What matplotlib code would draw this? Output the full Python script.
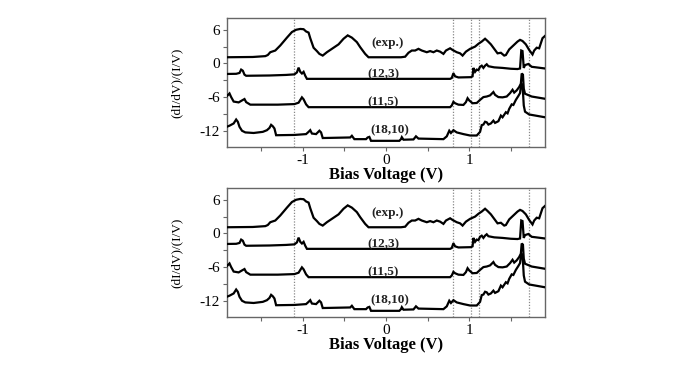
import matplotlib
matplotlib.use("Agg")
import matplotlib.pyplot as plt
from matplotlib.ticker import FixedLocator

plt.rcParams['font.family'] = ['Liberation Serif', 'DejaVu Serif']
plt.rcParams['axes.unicode_minus'] = False

# ---- data ----
exp_v = [-1.92, -1.60, -1.45, -1.42, -1.39, -1.33, -1.27, -1.19, -1.13, -1.08, -1.03, -0.99,
         -0.96, -0.93, -0.91, -0.87, -0.83, -0.80, -0.76, -0.71, -0.65, -0.57, -0.51, -0.46,
         -0.41, -0.35, -0.31, -0.25, -0.21, 0.18, 0.23, 0.27, 0.31, 0.35, 0.39, 0.43, 0.49,
         0.53, 0.57, 0.61, 0.65, 0.69, 0.72, 0.77, 0.80, 0.85, 0.89, 0.92, 0.96, 1.01, 1.07,
         1.11, 1.15, 1.19, 1.22, 1.26, 1.30, 1.34, 1.38, 1.42, 1.44, 1.48, 1.53, 1.58, 1.61,
         1.64, 1.68, 1.72, 1.76, 1.78, 1.81, 1.84, 1.88, 1.91]
exp_y = [1.1, 1.15, 1.3, 1.5, 2.0, 2.3, 3.2, 4.6, 5.6, 6.0, 6.15, 6.1,
         5.7, 5.5, 4.5, 2.8, 2.2, 1.7, 1.4, 2.0, 2.6, 3.4, 4.4, 5.0,
         4.6, 3.8, 2.9, 1.7, 1.1, 1.1, 1.2, 1.9, 2.3, 2.3, 2.6, 2.3, 2.0,
         2.2, 2.0, 2.3, 2.1, 1.7, 2.3, 2.7, 2.4, 2.0, 1.8, 1.4, 2.1, 2.6, 3.0,
         3.5, 3.9, 4.4, 4.0, 3.4, 2.6, 1.8, 1.9, 1.4, 1.5, 2.5, 3.2, 3.9, 4.2,
         4.0, 3.4, 2.4, 1.6, 2.3, 2.8, 2.7, 4.5, 4.9]

t123_v = [-1.93, -1.80, -1.76, -1.74, -1.72, -1.70, -1.68, -1.40, -1.20, -1.10, -1.07, -1.05,
          -1.03, -1.01, -0.99, -0.97, -0.95, 0.77, 0.79, 0.81, 0.83, 0.87, 1.02, 1.04, 1.05,
          1.07, 1.09, 1.11, 1.13, 1.15, 1.17, 1.19, 1.21, 1.23, 1.30, 1.40, 1.50, 1.58, 1.61,
          1.625, 1.64, 1.655, 1.67, 1.71, 1.75, 1.91]
t123_y = [-1.88, -1.85, -1.7, -1.1, -1.3, -2.0, -2.2, -2.15, -2.05, -1.95, -1.6, -0.75,
          -1.5, -1.8, -1.5, -2.2, -2.75, -2.75, -2.6, -1.75, -2.3, -2.5, -2.45, -2.3, -0.8,
          -1.5, -1.1, -1.2, -0.6, -0.4, -0.8, -0.4, -0.15, -0.5, -0.7, -0.8, -0.95, -1.0, -0.9,
          2.3, 2.2, -0.8, -0.3, -0.1, -0.6, -0.9]

t115_v = [-1.93, -1.91, -1.88, -1.86, -1.83, -1.77, -1.73, -1.70, -1.68, -1.63, -1.30, -1.10,
          -1.05, -1.01, -0.99, -0.96, -0.93, 0.77, 0.79, 0.81, 0.83, 0.87, 0.93, 0.96, 0.98,
          1.00, 1.04, 1.09, 1.13, 1.17, 1.21, 1.25, 1.29, 1.31, 1.35, 1.40, 1.45, 1.49, 1.52,
          1.54, 1.57, 1.60, 1.62, 1.63, 1.645, 1.655, 1.67, 1.75, 1.91]
t115_y = [-6.1, -5.8, -5.35, -6.0, -6.8, -6.95, -6.6, -6.35, -6.9, -7.35, -7.35, -7.25,
          -7.0, -6.05, -6.4, -7.3, -7.8, -7.8, -7.5, -6.85, -7.1, -7.35, -7.4, -6.9, -6.2,
          -6.6, -7.1, -7.05, -6.5, -6.0, -5.9, -5.7, -5.1, -5.6, -6.0, -6.05, -5.9, -5.3, -4.7,
          -5.2, -4.8, -4.2, -3.6, -1.8, -2.0, -4.5, -5.4, -5.9, -6.3]

t1810_v = [-1.93, -1.88, -1.83, -1.80, -1.78, -1.76, -1.73, -1.69, -1.59, -1.48, -1.43, -1.40,
           -1.38, -1.36, -1.34, -1.32, -1.10, -0.96, -0.93, -0.91, -0.89, -0.84, -0.80, -0.78,
           -0.76, -0.43, -0.41, -0.38, -0.24, -0.22, -0.20, -0.18, 0.16, 0.18, 0.19, 0.21,
           0.33, 0.36, 0.39, 0.69, 0.73, 0.76, 0.78, 0.81, 0.85, 0.93, 1.01, 1.09, 1.13, 1.15,
           1.17, 1.19, 1.21, 1.23, 1.26, 1.29, 1.31, 1.35, 1.38, 1.40, 1.44, 1.46, 1.48, 1.51,
           1.53, 1.56, 1.59, 1.61, 1.625, 1.64, 1.655, 1.67, 1.72, 1.91]
t1810_y = [-11.4, -11.1, -10.7, -10.0, -10.4, -11.3, -12.0, -12.3, -12.4, -12.2, -11.9, -11.5,
           -10.95, -11.2, -11.6, -12.8, -12.75, -12.6, -12.2, -11.9, -12.5, -12.6, -12.0, -12.3,
           -13.3, -13.2, -12.9, -13.5, -13.5, -13.2, -13.1, -13.8, -13.8, -13.5, -13.15, -13.6,
           -13.55, -13.0, -13.4, -13.5, -13.0, -12.0, -12.4, -11.9, -12.3, -12.6, -12.85, -12.85,
           -12.2, -11.0, -10.9, -10.4, -10.5, -10.9, -10.7, -10.2, -10.6, -10.3, -9.3, -9.6,
           -8.7, -8.9, -8.1, -7.3, -7.4, -6.5, -5.8, -5.3, -3.6, -3.8, -7.5, -8.6, -9.1, -9.6]

curve_labels = ["(exp.)", "(12,3)", "(11,5)", "(18,10)"]
label_v = [0.02, -0.03, -0.03, 0.04]
label_y = [3.7, -1.9, -6.9, -12.0]

marker_v = [-1.11, 0.80, 1.02, 1.12, 1.72]

xticks = [-1, 0, 1]
xtick_labels = ["-1", "0", "1"]
yticks = [6, 0, -6, -12]
ytick_labels = ["6", "0", "-6", "-12"]

series = [(exp_v, exp_y), (t123_v, t123_y), (t115_v, t115_y), (t1810_v, t1810_y)]

# ---- figure ----
fig = plt.figure(figsize=(7.0, 3.65), dpi=100)
left = 227 / 700
width = 318 / 700
panels = [(1 - 147 / 365, 129 / 365), (1 - 317 / 365, 129 / 365)]

spine_col = "#666666"
for bottom, height in panels:
    ax = fig.add_axes([left, bottom, width, height])
    for v in marker_v:
        ax.axvline(v, color="#888888", linestyle=(0, (1, 1.3)), linewidth=0.9, zorder=1)
    for xs, ys in series:
        ax.plot(xs, ys, color="black", linewidth=1.6, solid_joinstyle="miter", zorder=3)
    for txt, lv, ly in zip(curve_labels, label_v, label_y):
        ax.text(lv, ly, txt, ha="center", va="center", fontsize=9.5, zorder=4,
                fontweight="bold", color="#222222")
    ax.set_xlim(-1.91, 1.91)
    ax.set_ylim(-14.9, 8.1)
    ax.set_xticks(xticks)
    ax.set_xticklabels(xtick_labels)
    ax.xaxis.set_minor_locator(FixedLocator([-1.5, -0.5, 0.5, 1.5]))
    ax.set_yticks(yticks)
    ax.set_yticklabels(ytick_labels)
    ax.yaxis.set_minor_locator(FixedLocator([3, -3, -9]))
    ax.tick_params(which="both", direction="out", length=3, width=0.8, color=spine_col,
                   labelsize=11, pad=2)
    for s in ax.spines.values():
        s.set_color(spine_col)
        s.set_linewidth(1.0)
    ax.set_xlabel("Bias Voltage (V)", fontsize=12, fontweight="bold", labelpad=0)
    ax.set_ylabel("(dI/dV)/(I/V)", fontsize=9.5, labelpad=12)

fig.savefig("out.png", dpi=100)
